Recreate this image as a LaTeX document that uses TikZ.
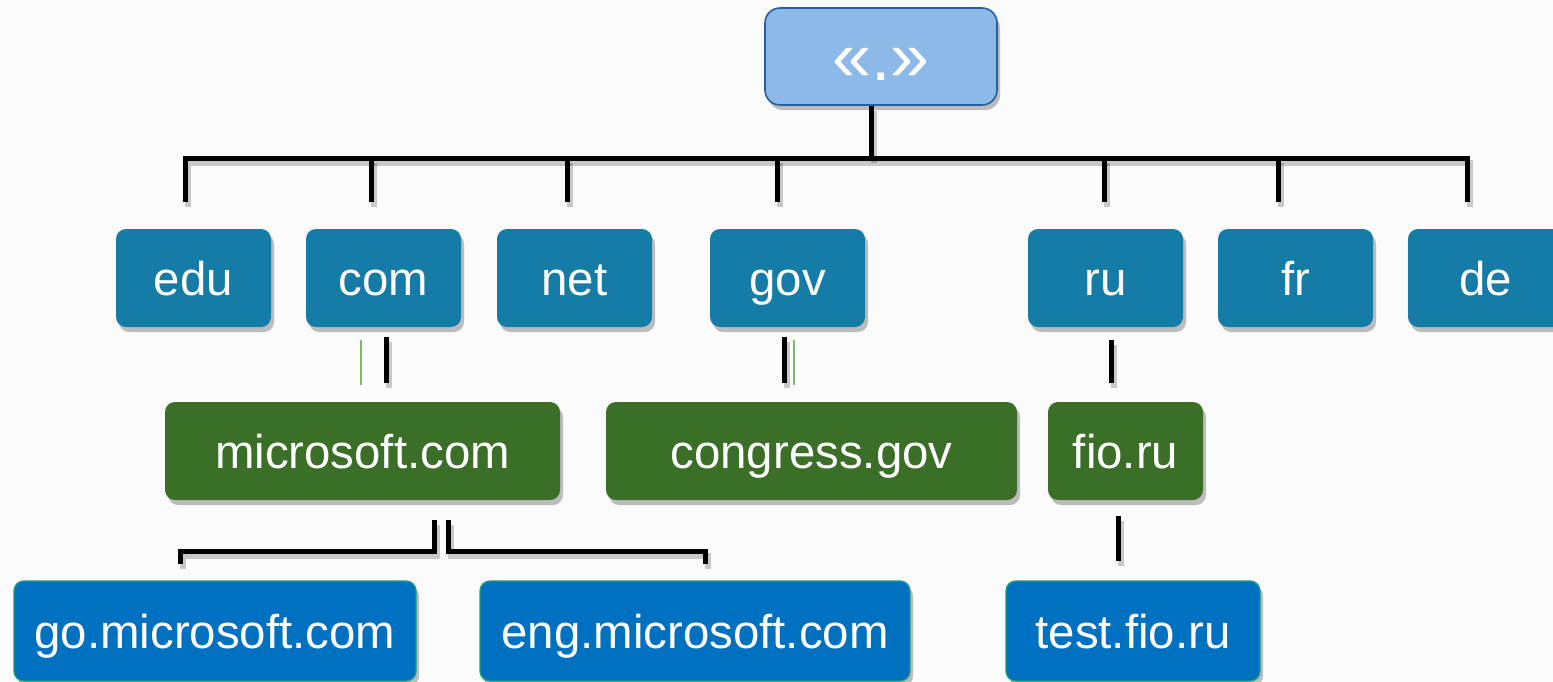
\documentclass[tikz,border=0pt]{standalone}
\usepackage{fontspec}
\setmainfont{Liberation Sans}
\usetikzlibrary{shadows}
\definecolor{bgc}{HTML}{FBFBFB}
\definecolor{rootfill}{HTML}{8DB9E8}
\definecolor{rootdraw}{HTML}{24609E}
\definecolor{tealc}{HTML}{157BA7}
\definecolor{greenc}{HTML}{3B6E27}
\definecolor{bluec}{HTML}{0070C0}
\definecolor{bordc}{HTML}{1A9E7E}
\definecolor{thing}{HTML}{7DB86A}
\tikzset{
  shd/.style={drop shadow={shadow xshift=1.5pt, shadow yshift=-2.5pt, opacity=0.25, fill=black}},
  box/.style={shd, rounded corners=5pt, inner sep=0pt, text=white,
    font=\fontsize{23.7}{28}\selectfont, text height=17pt, text depth=0pt},
  rootbox/.style={shd, rounded corners=7.5pt, inner sep=0pt, fill=rootfill, draw=rootdraw,
    line width=0.8pt, text=white, font=\fontsize{35}{40}\selectfont,
    text height=23.5pt, text depth=0pt, minimum width=116pt, minimum height=48.5pt},
  tld/.style={box, fill=tealc, minimum width=77.5pt, minimum height=49pt},
  sld/.style={box, fill=greenc, minimum height=49pt},
  hst/.style={box, fill=bluec, draw=bordc, line width=0.7pt, minimum height=50pt},
  ln/.style={line width=2.5pt, black, preaction={draw, black, opacity=0.2, line width=3pt,
    transform canvas={xshift=1.5pt, yshift=-2.5pt}}},
  gln/.style={line width=0.7pt, thing}
}
\begin{document}
\begin{tikzpicture}[x=0.5pt, y=-0.5pt]
\clip (0,0) rectangle (1553,681);
\fill[bgc] (0,0) rectangle (1553,681);

% root
\node[rootbox] (root) at (881,56.5) {«.»};

% top-level domains
\node[tld] (edu) at (193.5,278) {edu};
\node[tld] (com) at (383.5,278) {com};
\node[tld] (net) at (574.5,278) {net};
\node[tld] (gov) at (787.5,278) {gov};
\node[tld] (ru)  at (1105.5,278) {ru};
\node[tld] (fr)  at (1295.5,278) {fr};
\node[tld] (de)  at (1485.5,278) {de};

% second level
\node[sld, minimum width=197.5pt] (ms) at (362.5,451) {microsoft.com};
\node[sld, minimum width=205.5pt] (cg) at (811.5,451) {congress.gov};
\node[sld, minimum width=77.5pt]  (fio) at (1125.5,451) {fio.ru};

% hosts
\node[hst, minimum width=201pt] (go)  at (215,631) {go.microsoft.com};
\node[hst, minimum width=215pt] (eng) at (695,631) {eng.microsoft.com};
\node[hst, minimum width=127pt] (tst) at (1133,631) {test.fio.ru};

% bus coordinates
\coordinate (bL) at (185,158);
\coordinate (bR) at (1467,158);
\coordinate (dL) at (185,202);
\coordinate (dR) at (1467,202);
\draw[ln] ([xshift=-5pt]root.south) -- ([xshift=-5pt]root.south |- bL);
\draw[ln] (dL) -- (bL) -- (bR) -- (dR);
\foreach \n/\x in {com/371, net/567, gov/777, ru/1104, fr/1278}{
  \coordinate (t\n) at (\x,158);
  \coordinate (e\n) at (\x,202);
  \draw[ln] (t\n) -- (e\n);
}

% ticks between levels
\coordinate (c1) at (386,337); \coordinate (c2) at (386,383);
\coordinate (c3) at (361,340); \coordinate (c4) at (361,385);
\coordinate (g1) at (784,337); \coordinate (g2) at (784,383);
\coordinate (g3) at (794,340); \coordinate (g4) at (794,385);
\coordinate (r1) at (1111,340); \coordinate (r2) at (1111,383);
\draw[ln] (c1) -- (c2);
\draw[gln] (c3) -- (c4);
\draw[ln] (g1) -- (g2);
\draw[gln] (g3) -- (g4);
\draw[ln] (r1) -- (r2);

% microsoft brackets
\coordinate (m1) at (434,520); \coordinate (m2) at (180,551); \coordinate (m3) at (180,564);
\coordinate (m4) at (448,520); \coordinate (m5) at (705,551); \coordinate (m6) at (705,564);
\draw[ln] (m1) |- (m2) -- (m3);
\draw[ln] (m4) |- (m5) -- (m6);

% fio tick
\coordinate (f1) at (1118,516); \coordinate (f2) at (1118,561);
\draw[ln] (f1) -- (f2);
\end{tikzpicture}
\end{document}
